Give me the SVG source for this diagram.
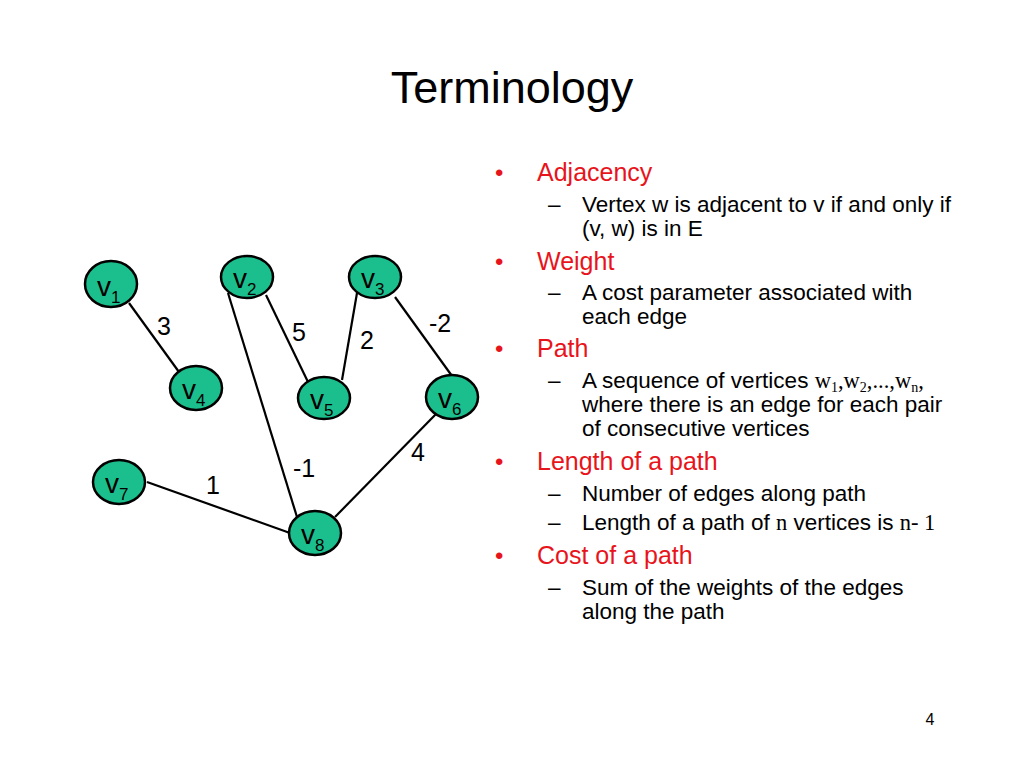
<svg xmlns="http://www.w3.org/2000/svg" width="1024" height="768" viewBox="0 0 1024 768">
<style>
.node{fill:#1bbf8d;stroke:#000;stroke-width:2.5}
.edge{stroke:#000;stroke-width:2.2;fill:none}
.nt{font-family:"Liberation Sans",Arial,sans-serif;font-size:28px;fill:#000}
.sub{font-size:17px}
.wl{font-family:"Liberation Sans",Arial,sans-serif;font-size:25px;fill:#000;text-anchor:middle}
.h{font-family:"Liberation Sans",Arial,sans-serif;font-size:25px;fill:#e8141b}
.b{font-family:"Liberation Sans",Arial,sans-serif;font-size:24px;fill:#e8141b}
.s{font-family:"Liberation Sans",Arial,sans-serif;font-size:22.5px;fill:#000}
.tm{font-family:"Liberation Serif","Times New Roman",serif}
</style>
<rect width="1024" height="768" fill="#fff"/>
<text x="512" y="103" text-anchor="middle" font-family="Liberation Sans,Arial,sans-serif" font-size="45" fill="#000">Terminology</text>
<g id="connectors">
<line class="edge" x1="129" y1="303" x2="179" y2="372"/>
<line class="edge" x1="228" y1="293" x2="297" y2="517"/>
<line class="edge" x1="266" y1="295" x2="308" y2="382"/>
<line class="edge" x1="357" y1="293" x2="342" y2="380"/>
<line class="edge" x1="395" y1="297" x2="452" y2="376"/>
<line class="edge" x1="437" y1="413" x2="335" y2="517"/>
<line class="edge" x1="147" y1="482" x2="290" y2="533"/>
<text class="wl" x="164" y="335">3</text>
<text class="wl" x="299" y="341">5</text>
<text class="wl" x="367" y="349">2</text>
<text class="wl" x="440" y="332">-2</text>
<text class="wl" x="418" y="461">4</text>
<text class="wl" x="304" y="477">-1</text>
<text class="wl" x="213" y="494">1</text>
</g>
<g id="v1"><ellipse class="node" cx="111" cy="284" rx="26" ry="23"/><text class="nt" x="97" y="296">v<tspan class="sub" dy="7">1</tspan></text></g>
<g id="v2"><ellipse class="node" cx="247" cy="277" rx="26" ry="21"/><text class="nt" x="233" y="288">v<tspan class="sub" dy="7">2</tspan></text></g>
<g id="v3"><ellipse class="node" cx="375" cy="277" rx="26" ry="21"/><text class="nt" x="361" y="288">v<tspan class="sub" dy="7">3</tspan></text></g>
<g id="v4"><ellipse class="node" cx="196" cy="388" rx="26" ry="22"/><text class="nt" x="182" y="399">v<tspan class="sub" dy="7">4</tspan></text></g>
<g id="v5"><ellipse class="node" cx="324" cy="398" rx="26" ry="21"/><text class="nt" x="310" y="409">v<tspan class="sub" dy="7">5</tspan></text></g>
<g id="v6"><ellipse class="node" cx="452" cy="397" rx="26" ry="22"/><text class="nt" x="438" y="408">v<tspan class="sub" dy="7">6</tspan></text></g>
<g id="v7"><ellipse class="node" cx="119" cy="482" rx="26" ry="22"/><text class="nt" x="105" y="493">v<tspan class="sub" dy="7">7</tspan></text></g>
<g id="v8"><ellipse class="node" cx="315" cy="533" rx="26" ry="22"/><text class="nt" x="301" y="544">v<tspan class="sub" dy="7">8</tspan></text></g>
<g id="text">
<text class="b" x="495" y="181">•</text>
<text class="h" x="537" y="181">Adjacency</text>
<text class="s" x="548" y="212">–</text>
<text class="s" x="582" y="212">Vertex w is adjacent to v if and only if</text>
<text class="s" x="582" y="236">(v, w) is in E</text>
<text class="b" x="495" y="270">•</text>
<text class="h" x="537" y="270">Weight</text>
<text class="s" x="548" y="300">–</text>
<text class="s" x="582" y="300">A cost parameter associated with</text>
<text class="s" x="582" y="324">each edge</text>
<text class="b" x="495" y="357">•</text>
<text class="h" x="537" y="357">Path</text>
<text class="s" x="548" y="388">–</text>
<text class="s" x="582" y="388">A sequence of vertices <tspan class="tm">w<tspan font-size="14" dy="4">1</tspan><tspan dy="-4">,w</tspan><tspan font-size="14" dy="4">2</tspan><tspan dy="-4">,...,w</tspan><tspan font-size="14" dy="4">n</tspan><tspan dy="-4">,</tspan></tspan></text>
<text class="s" x="582" y="412">where there is an edge for each pair</text>
<text class="s" x="582" y="436">of consecutive vertices</text>
<text class="b" x="495" y="470">•</text>
<text class="h" x="537" y="470">Length of a path</text>
<text class="s" x="548" y="501">–</text>
<text class="s" x="582" y="501">Number of edges along path</text>
<text class="s" x="548" y="530">–</text>
<text class="s" x="582" y="530">Length of a path of <tspan class="tm">n</tspan> vertices is <tspan class="tm">n- 1</tspan></text>
<text class="b" x="495" y="564">•</text>
<text class="h" x="537" y="564">Cost of a path</text>
<text class="s" x="548" y="595">–</text>
<text class="s" x="582" y="595">Sum of the weights of the edges</text>
<text class="s" x="582" y="619">along the path</text>
<text x="930" y="725" text-anchor="middle" font-family="Liberation Sans,Arial,sans-serif" font-size="16" fill="#000">4</text>
</g>
</svg>
